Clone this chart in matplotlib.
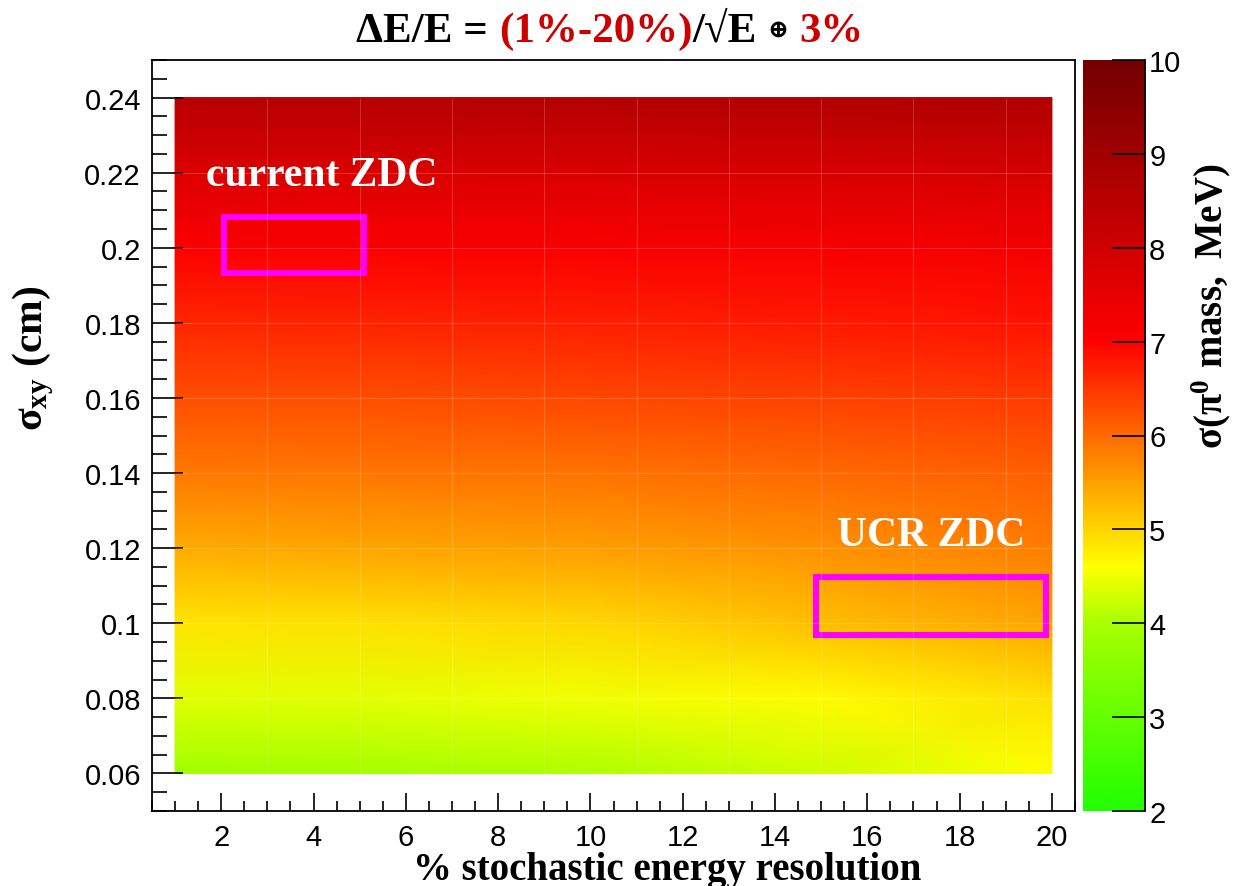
import numpy as np
import matplotlib
matplotlib.use("Agg")
import matplotlib.pyplot as plt
from matplotlib.colors import LinearSegmentedColormap
from matplotlib.ticker import MultipleLocator

plt.rcParams['mathtext.fontset'] = 'custom'
plt.rcParams['mathtext.rm'] = 'Liberation Serif:bold'
plt.rcParams['mathtext.bf'] = 'Liberation Serif:bold'
plt.rcParams['mathtext.it'] = 'Liberation Serif:bold'

# stochastic term (%) and position resolution (cm)
stoch = [1, 5, 10, 15, 20]
sigma_xy = [0.06, 0.08, 0.10, 0.12, 0.14, 0.16, 0.18, 0.20, 0.22, 0.24]
# sigma of pi0 mass (MeV), one row per sigma_xy value
mass_res = [
    [3.90, 3.95, 4.05, 4.25, 4.60],
    [4.40, 4.42, 4.50, 4.65, 4.90],
    [4.85, 4.88, 4.97, 5.20, 5.45],
    [5.40, 5.45, 5.52, 5.65, 5.82],
    [5.85, 5.88, 5.93, 6.02, 6.12],
    [6.25, 6.28, 6.32, 6.38, 6.45],
    [6.65, 6.67, 6.70, 6.75, 6.82],
    [7.05, 7.07, 7.10, 7.15, 7.22],
    [7.75, 7.77, 7.80, 7.84, 7.90],
    [8.55, 8.57, 8.60, 8.64, 8.70],
]

zmin, zmax = 2, 10
stops = [(2, (0.13, 1, 0)), (4, (0.66, 1, 0)), (4.6, (1, 1, 0)),
         (7, (1, 0, 0)), (10, (0.45, 0, 0))]
cmap = LinearSegmentedColormap.from_list(
    'gyr', [((v - zmin) / (zmax - zmin), c) for v, c in stops])

fig = plt.figure(figsize=(12.34, 8.87), dpi=100)
W, H = 1234, 887
ax = fig.add_axes([152 / W, 1 - 812 / H, (1075 - 152) / W, (812 - 61) / H])
cax = fig.add_axes([1083 / W, 1 - 812 / H, 62 / W, (812 - 61) / H])

X, Y = np.meshgrid(stoch, sigma_xy)
mesh = ax.pcolormesh(X, Y, np.array(mass_res), shading='gouraud',
                     cmap=cmap, vmin=zmin, vmax=zmax)

# faint mesh lines over the surface
ax.vlines(np.arange(3, 20, 2), 0.06, 0.24, color='white', alpha=0.18, lw=0.8)
ax.hlines(np.arange(0.08, 0.23, 0.02), 1, 20, color='white', alpha=0.18, lw=0.8)

ax.set_xlim(0.5, 20.5)
ax.set_ylim(0.05, 0.25)
ax.xaxis.set_major_locator(MultipleLocator(2))
ax.xaxis.set_minor_locator(MultipleLocator(0.5))
ax.yaxis.set_minor_locator(MultipleLocator(0.005))
yt = np.arange(0.06, 0.241, 0.02)
ax.set_yticks(yt)
ax.set_yticklabels(['%g' % round(v, 2) for v in yt])
ax.tick_params(axis='both', which='both', direction='in', width=1.2,
               top=False, right=False, labelsize=21)
ax.tick_params(axis='x', which='major', length=13, pad=9)
ax.tick_params(axis='x', which='minor', length=7)
ax.tick_params(axis='y', which='major', length=22, pad=8)
ax.tick_params(axis='y', which='minor', length=11)
for lab in ax.get_xticklabels() + ax.get_yticklabels():
    lab.set_fontfamily('Liberation Sans')
for sp in ax.spines.values():
    sp.set_linewidth(1.3)

# detector boxes
ax.add_patch(plt.Rectangle((2.07, 0.1933), 3.03, 0.015, fill=False,
                           edgecolor='#ff00ff', lw=4.3))
ax.add_patch(plt.Rectangle((14.89, 0.097), 4.98, 0.0153, fill=False,
                           edgecolor='#ff00ff', lw=4.3))
ax.text(1.68, 0.2168, 'current ZDC', color='white', fontsize=30,
        fontweight='bold', family='Liberation Serif', va='baseline')
ax.text(15.34, 0.1208, 'UCR ZDC', color='white', fontsize=30,
        fontweight='bold', family='Liberation Serif', va='baseline')

# colour scale
cb = fig.colorbar(mesh, cax=cax)
cb.outline.set_visible(False)
cb.set_ticks(range(2, 11))
cax.yaxis.set_ticks_position('right')
cax.tick_params(direction='in', length=24, width=1.2, labelsize=21, pad=3)
for lab in cax.get_yticklabels():
    lab.set_fontfamily('Liberation Sans')
cax.plot([1, 1], [0, 1], transform=cax.transAxes, color='black', lw=1.3,
         clip_on=False)

# axis titles
fig.text(33 / W, 1 - 358 / H, r'$\mathbf{\sigma_{xy}\ (cm)}$', rotation=90,
         fontsize=30, ha='center', va='center')
fig.text(1211 / W, 1 - 306 / H, r'$\mathbf{\sigma(\pi^{0}\ mass,\ MeV)}$',
         rotation=90, fontsize=28, ha='center', va='center')
fig.text(667 / W, 1 - 880 / H, '% stochastic energy resolution',
         fontsize=28, fontweight='bold', family='Liberation Serif',
         ha='center', va='baseline')

# title built from coloured pieces
red = '#cc0000'
serif = ['Liberation Serif', 'DejaVu Serif', 'DejaVu Sans']
pieces = [('ΔE/E =', 'black', 31, 11), ('(1%-20%)', red, 31, 0),
          ('/√E', 'black', 31, 11), ('⊕', 'black', 18, 11), ('3%', red, 31, 0)]
renderer = fig.canvas.get_renderer()
base = 1 - 42 / H
texts, widths = [], []
for s, c, size, gap in pieces:
    t = fig.text(0, base, s, color=c, fontsize=size, fontweight='bold',
                 family=serif, va='baseline')
    texts.append(t)
    widths.append(t.get_window_extent(renderer).width + gap)
total = sum(widths) - pieces[-1][3]
xpos = 610 - total / 2
for t, w, (s, c, size, gap) in zip(texts, widths, pieces):
    if s == '⊕':
        t.set_va('center')
        t.set_y(base + 12 / H)
    t.set_x(xpos / W)
    xpos += w

fig.savefig('out.png', dpi=100)
